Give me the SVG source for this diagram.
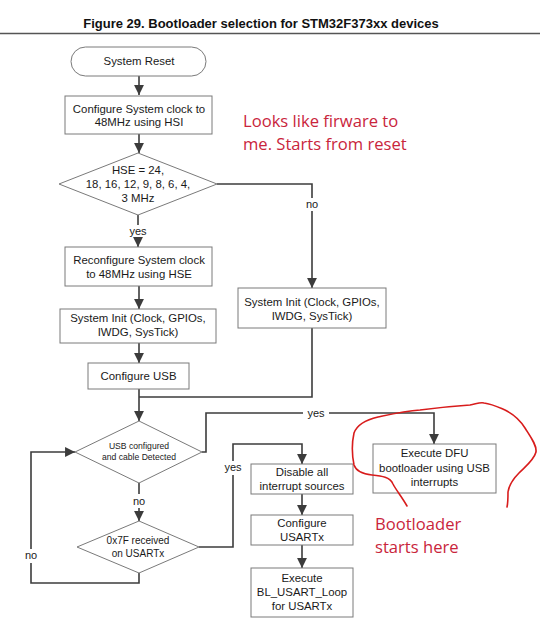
<svg xmlns="http://www.w3.org/2000/svg" width="540" height="633" viewBox="0 0 540 633">
<defs>
<style>
.bg{fill:#ffffff}
.box{fill:#ffffff;stroke:#7a7a7a;stroke-width:1}
.t{font-family:"Liberation Sans",Arial,sans-serif;font-size:11.4px;fill:#1a1a1a;text-anchor:middle}
.ts{font-family:"Liberation Sans",Arial,sans-serif;font-size:8.6px;fill:#1a1a1a;text-anchor:middle}
.tm{font-family:"Liberation Sans",Arial,sans-serif;font-size:10px;fill:#1a1a1a;text-anchor:middle}
.lbl{font-family:"Liberation Sans",Arial,sans-serif;font-size:11px;fill:#1a1a1a;text-anchor:middle}
.c{fill:none;stroke:#3c3c3c;stroke-width:1.6}
.red{font-family:"Open Sans","Noto Sans",sans-serif;font-size:16.6px;fill:#c9253c}
.title{font-family:"Liberation Sans",Arial,sans-serif;font-size:13px;font-weight:bold;fill:#111;text-anchor:middle}
</style>
<marker id="ah" viewBox="0 0 10 10" refX="10" refY="5" markerWidth="6.2" markerHeight="6.2" orient="auto" markerUnits="strokeWidth">
<path d="M0,0 L10,5 L0,10 z" fill="#3c3c3c"/>
</marker>
</defs>
<rect class="bg" x="0" y="0" width="540" height="633"/>
<text class="title" x="261" y="28">Figure 29. Bootloader selection for STM32F373xx devices</text>
<line x1="0" y1="33.5" x2="540" y2="33.5" stroke="#555" stroke-width="1.5"/>

<g id="connectors">
<path class="c" d="M139,76 V95" marker-end="url(#ah)"/>
<path class="c" d="M139,134 V153" marker-end="url(#ah)"/>
<path class="c" d="M138,215 V225"/>
<path class="c" d="M138,238 V247" marker-end="url(#ah)"/>
<path class="c" d="M217,184 H312 V198"/>
<path class="c" d="M312,211 V288" marker-end="url(#ah)"/>
<path class="c" d="M139,286 V309" marker-end="url(#ah)"/>
<path class="c" d="M139,343 V363" marker-end="url(#ah)"/>
<path class="c" d="M139,389 V421" marker-end="url(#ah)"/>
<path class="c" d="M312,328 V397 H139"/>
<path class="c" d="M202,452 H206 V413 H303"/>
<path class="c" d="M329,413 H434 V444" marker-end="url(#ah)"/>
<path class="c" d="M139,483 V494"/>
<path class="c" d="M139,508 V521" marker-end="url(#ah)"/>
<path class="c" d="M199,547 H233 V475"/>
<path class="c" d="M233,461 V444 H302 V464" marker-end="url(#ah)"/>
<path class="c" d="M302,494 V515" marker-end="url(#ah)"/>
<path class="c" d="M302,545 V568" marker-end="url(#ah)"/>
<path class="c" d="M139,573 V583 H31 V563"/>
<path class="c" d="M31,549 V452 H75" marker-end="url(#ah)"/>
<text class="lbl" x="312" y="208">no</text>
<text class="lbl" x="138" y="235">yes</text>
<text class="lbl" x="316" y="416.5">yes</text>
<text class="lbl" x="139" y="505">no</text>
<text class="lbl" x="233" y="471">yes</text>
<text class="lbl" x="31" y="559">no</text>
</g>

<g id="system-reset">
<rect class="box" x="71" y="47" width="135" height="29" rx="14.5" ry="14.5"/>
<text class="t" x="139" y="65">System Reset</text>
</g>
<g id="configure-hsi">
<rect class="box" x="65" y="96" width="147" height="38"/>
<text class="t" x="139" y="113">Configure System clock to</text>
<text class="t" x="139" y="126">48MHz using HSI</text>
</g>
<g id="hse-decision">
<polygon class="box" points="138,153 217,184 138,215 59,184"/>
<text class="t" x="138" y="174">HSE = 24,</text>
<text class="t" x="138" y="188">18, 16, 12, 9, 8, 6, 4,</text>
<text class="t" x="138" y="202">3 MHz</text>
</g>
<g id="reconfigure-hse">
<rect class="box" x="65" y="247" width="147" height="39"/>
<text class="t" x="139" y="264">Reconfigure System clock</text>
<text class="t" x="139" y="277.5">to 48MHz using HSE</text>
</g>
<g id="system-init-left">
<rect class="box" x="60" y="309" width="156" height="34"/>
<text class="t" x="138" y="322">System Init (Clock, GPIOs,</text>
<text class="t" x="138" y="336">IWDG, SysTick)</text>
</g>
<g id="configure-usb">
<rect class="box" x="88" y="363" width="101" height="26"/>
<text class="t" x="138.5" y="380">Configure USB</text>
</g>
<g id="system-init-right">
<rect class="box" x="238" y="288" width="148" height="40"/>
<text class="t" x="312" y="306">System Init (Clock, GPIOs,</text>
<text class="t" x="312" y="320">IWDG, SysTick)</text>
</g>
<g id="usb-decision">
<polygon class="box" points="139,421 202,452 139,483 75,452"/>
<text class="ts" x="139" y="449">USB configured</text>
<text class="ts" x="139" y="460">and cable Detected</text>
</g>
<g id="usart-decision">
<polygon class="box" points="139,521 199,547 139,573 77,547"/>
<text class="tm" x="138" y="544">0x7F received</text>
<text class="tm" x="138" y="557">on USARTx</text>
</g>
<g id="dfu">
<rect class="box" x="373" y="444" width="123" height="49"/>
<text class="t" x="434.5" y="457">Execute DFU</text>
<text class="t" x="434.5" y="471.5">bootloader using USB</text>
<text class="t" x="434.5" y="485.5">interrupts</text>
</g>
<g id="disable-interrupts">
<rect class="box" x="251" y="464" width="102" height="30"/>
<text class="t" x="302" y="476">Disable all</text>
<text class="t" x="302" y="490">interrupt sources</text>
</g>
<g id="configure-usart">
<rect class="box" x="251" y="515" width="102" height="30"/>
<text class="t" x="302" y="527">Configure</text>
<text class="t" x="302" y="540.5">USARTx</text>
</g>
<g id="execute-usart">
<rect class="box" x="251" y="568" width="102" height="49"/>
<text class="t" x="302" y="582">Execute</text>
<text class="t" x="302" y="596">BL_USART_Loop</text>
<text class="t" x="302" y="609.5">for USARTx</text>
</g>

<g id="annotations">
<text class="red" x="243" y="127">Looks like firware to</text>
<text class="red" x="243" y="150">me. Starts from reset</text>
<text class="red" x="375" y="530">Bootloader</text>
<text class="red" x="375" y="553">starts here</text>
<path d="M407,506 C402,497 396,490 393,484 C390,477 382,476 372,475 C362,474 356,471 354,465 C352,455 352,442 354,433 C357,425 365,420 378,417 C392,414 405,411 420,410 C435,408 455,406 470,405 C476,404 480,402 484,403 C492,404 498,407 505,410 C513,414 520,420 525,428 C530,436 537,445 536,452 C534,460 526,466 519,473 C513,479 509,485 508,492 C508,498 508,503 507,507" fill="none" stroke="#d81c1c" stroke-width="1.6" stroke-linecap="round"/>
</g>
</svg>
